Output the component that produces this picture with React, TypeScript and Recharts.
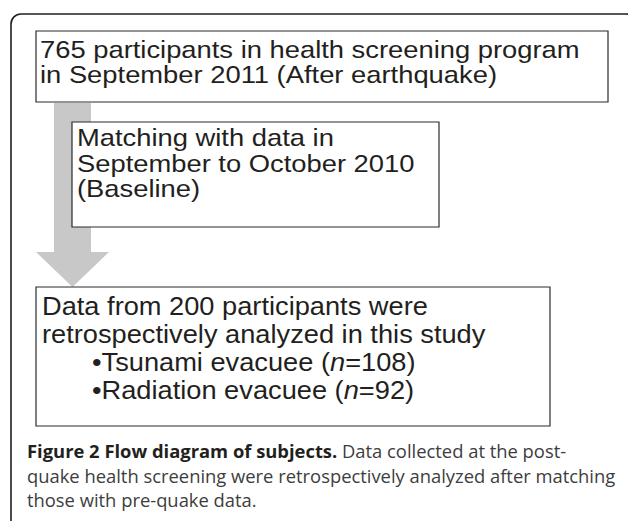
import { ComposedChart, ReferenceArea, Scatter, XAxis, YAxis } from 'recharts';

const W = 628;
const H = 521;

// text content of the flow diagram
const screeningLines = ['765 participants in health screening program', 'in September 2011 (After earthquake)'];
const matchingLines = ['Matching with data in', 'September to October 2010', '(Baseline)'];
const analysisLines = ['Data from 200 participants were', 'retrospectively analyzed in this study'];
const groupNames = ['Tsunami evacuee', 'Radiation evacuee'];
const groupCounts = [108, 92];
const captionTitle = 'Figure 2 Flow diagram of subjects.';
const captionLines = [
  ' Data collected at the post-',
  'quake health screening were retrospectively analyzed after matching',
  'those with pre-quake data.',
];

interface Part {
  t: string;
  italic?: boolean;
  bold?: boolean;
}

interface Row {
  x: number;
  y: number;
  parts: Part[];
}

const INK = '#231f20';
const GREY = '#c8c8c8';
const BOX_FONT = '"Liberation Sans", Arial, Helvetica, sans-serif';
const CAPTION_FONT = '"Open Sans", "Noto Sans", sans-serif';

function rows(lines: Part[][], x: number, y0: number, dy: number): Row[] {
  return lines.map((parts, i) => ({ x, y: y0 + i * dy, parts }));
}

const plain = (s: string): Part[] => [{ t: s }];

const boxRows: Row[] = [
  ...rows(screeningLines.map(plain), 40, 58, 25),
  ...rows(matchingLines.map(plain), 77, 146, 25.5),
];

const analysisRows: Row[] = [
  ...rows(analysisLines.map(plain), 42, 315, 28),
  ...rows(
    groupNames.map((name, i) => [
      { t: `\u2022${name} (` },
      { t: 'n', italic: true },
      { t: `=${groupCounts[i]})` },
    ]),
    92,
    371,
    28,
  ),
];

const captionRows: Row[] = rows(
  captionLines.map((s, i) => (i === 0 ? [{ t: captionTitle, bold: true }, { t: s }] : plain(s))),
  27,
  458,
  24.5,
);

function textShape(font: string, size: number, sx: number) {
  return (props: any) => {
    const { cx, cy, payload } = props;
    if (cx == null || cy == null) return <g />;
    return (
      <text
        transform={`translate(${cx},${cy}) scale(${sx},1)`}
        fontFamily={font}
        fontSize={size}
        fill={INK}
        style={{ whiteSpace: 'pre' }}
      >
        {payload.parts.map((p: Part, i: number) => (
          <tspan
            key={i}
            fontStyle={p.italic ? 'italic' : undefined}
            fontWeight={p.bold ? 700 : undefined}
            fill={font === CAPTION_FONT && !p.bold ? '#3d3d3d' : INK}
          >
            {p.t}
          </tspan>
        ))}
      </text>
    );
  };
}

const ArrowHead = (props: any) => {
  const { x, y, width, height } = props;
  return <polygon points={`${x},${y} ${x + width},${y} ${x + width / 2},${y + height}`} fill={GREY} />;
};

const Frame = (props: any) => {
  const { x, y, width, height } = props;
  return <rect x={x} y={y} width={width} height={height} rx={10} ry={10} fill="none" stroke={INK} strokeWidth={1.6} />;
};

const boxStyle = { fill: '#ffffff', fillOpacity: 1, stroke: '#2b2b2b', strokeWidth: 1.2 };

export default function App() {
  return (
    <div style={{ width: W, height: H }}>
      <style>{'body{margin:0}'}</style>
      <ComposedChart width={W} height={H} margin={{ top: 0, right: 0, bottom: 0, left: 0 }}>
        <XAxis type="number" dataKey="x" domain={[0, W]} allowDataOverflow hide />
        <YAxis type="number" dataKey="y" domain={[0, H]} reversed allowDataOverflow hide />
        <ReferenceArea x1={11} x2={636} y1={14} y2={530} ifOverflow="visible" shape={Frame} />
        <ReferenceArea x1={54} x2={91} y1={103} y2={253} fill={GREY} fillOpacity={1} stroke="none" />
        <ReferenceArea x1={36} x2={608} y1={31} y2={102} {...boxStyle} />
        <ReferenceArea x1={72} x2={439} y1={122} y2={227} {...boxStyle} />
        <ReferenceArea x1={36} x2={109} y1={252} y2={287} shape={ArrowHead} />
        <ReferenceArea x1={36} x2={550} y1={287} y2={426} {...boxStyle} />
        <Scatter data={boxRows} isAnimationActive={false} shape={textShape(BOX_FONT, 24, 1.14)} />
        <Scatter data={analysisRows} isAnimationActive={false} shape={textShape(BOX_FONT, 25, 1.09)} />
        <Scatter data={captionRows} isAnimationActive={false} shape={textShape(CAPTION_FONT, 17.5, 1.05)} />
      </ComposedChart>
    </div>
  );
}
